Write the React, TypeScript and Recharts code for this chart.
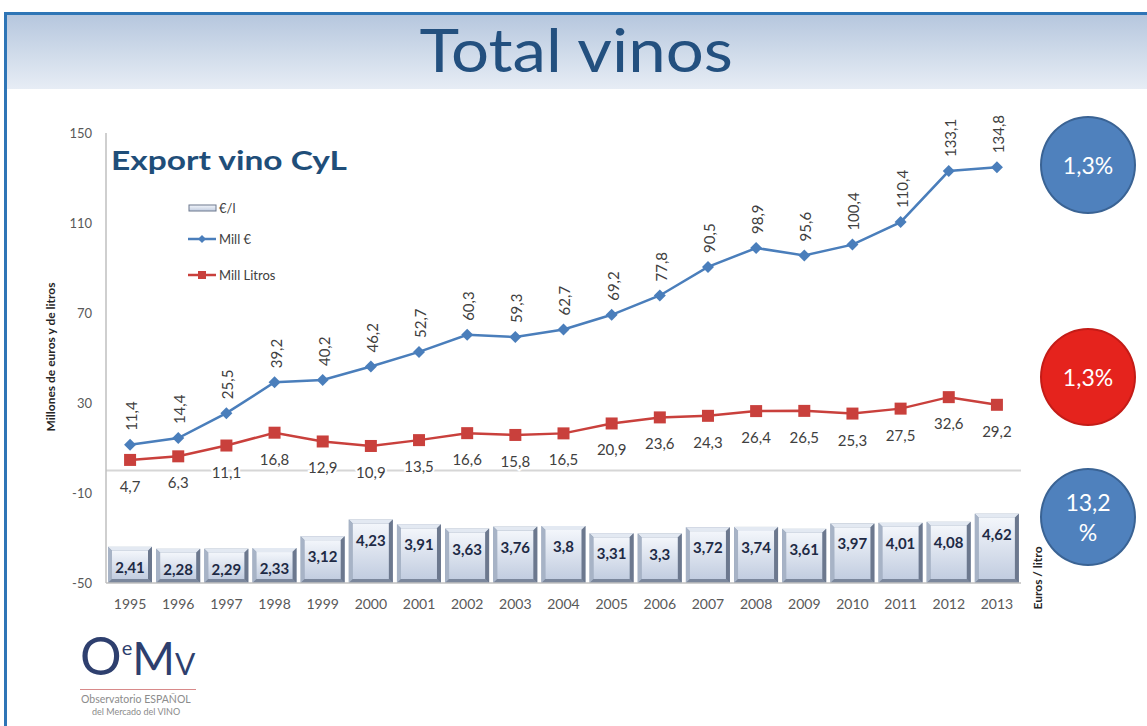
import React from 'react';
import {
  ComposedChart,
  Bar,
  Line,
  XAxis,
  YAxis,
  LabelList,
  ReferenceLine,
} from 'recharts';

const years = [
  '1995', '1996', '1997', '1998', '1999', '2000', '2001', '2002', '2003', '2004',
  '2005', '2006', '2007', '2008', '2009', '2010', '2011', '2012', '2013',
];
const millEuros = [
  11.4, 14.4, 25.5, 39.2, 40.2, 46.2, 52.7, 60.3, 59.3, 62.7,
  69.2, 77.8, 90.5, 98.9, 95.6, 100.4, 110.4, 133.1, 134.8,
];
const millLitros = [
  4.7, 6.3, 11.1, 16.8, 12.9, 10.9, 13.5, 16.6, 15.8, 16.5,
  20.9, 23.6, 24.3, 26.4, 26.5, 25.3, 27.5, 32.6, 29.2,
];
const eurosLitro = [
  2.41, 2.28, 2.29, 2.33, 3.12, 4.23, 3.91, 3.63, 3.76, 3.8,
  3.31, 3.3, 3.72, 3.74, 3.61, 3.97, 4.01, 4.08, 4.62,
];
const leftTicks = [-50, -10, 30, 70, 110, 150];
const badges = [
  { text: ['1,3%'], color: '#4F81BD', border: '#3A6394', top: 116 },
  { text: ['1,3%'], color: '#E5231D', border: '#C41C17', top: 328 },
  { text: ['13,2', '%'], color: '#4F81BD', border: '#3A6394', top: 468 },
];

const data = years.map((year, i) => ({
  year,
  euros: millEuros[i],
  litros: millLitros[i],
  eurosLitro: eurosLitro[i],
}));

const FONT = 'Lato, "Open Sans", sans-serif';
const BLUE = '#4A7EBB';
const RED = '#C9403C';

const fmt = (v: number) => String(v).replace('.', ',');

// bevelled bar like the excel "€/l" columns
function BevelBar(props: any) {
  const { x, y, width, height } = props;
  if (!width || !height) return null;
  const b = 4;
  const x2 = x + width;
  const y2 = y + height;
  return (
    <g>
      <rect x={x} y={y} width={width} height={height} fill="#8C9AB0" />
      <polygon points={`${x},${y} ${x2},${y} ${x2 - b},${y + b} ${x + b},${y + b}`} fill="#E3E9F2" />
      <polygon points={`${x},${y} ${x + b},${y + b} ${x + b},${y2 - b} ${x},${y2}`} fill="#A7B3C6" />
      <polygon points={`${x2},${y} ${x2},${y2} ${x2 - b},${y2 - b} ${x2 - b},${y + b}`} fill="#6C788E" />
      <polygon points={`${x},${y2} ${x + b},${y2 - b} ${x2 - b},${y2 - b} ${x2},${y2}`} fill="#7B879C" />
      <rect x={x + b} y={y + b} width={width - 2 * b} height={height - 2 * b} fill="url(#barFace)" />
    </g>
  );
}

function DiamondDot(props: any) {
  const { cx, cy } = props;
  if (cx == null || cy == null) return null;
  const r = 6;
  return (
    <polygon
      points={`${cx},${cy - r} ${cx + r},${cy} ${cx},${cy + r} ${cx - r},${cy}`}
      fill={BLUE}
    />
  );
}

function SquareDot(props: any) {
  const { cx, cy } = props;
  if (cx == null || cy == null) return null;
  return <rect x={cx - 6} y={cy - 6} width={12} height={12} fill={RED} />;
}

const euroLabel = (p: any) => {
  const tx = p.x + 1;
  const ty = p.y - 14;
  return (
    <text
      x={tx}
      y={ty}
      transform={`rotate(-90 ${tx} ${ty})`}
      textAnchor="start"
      dominantBaseline="central"
      fontSize={15}
      fontFamily={FONT}
      fill="#404040"
    >
      {fmt(p.value)}
    </text>
  );
};

const litrosLabel = (p: any) => (
  <text
    x={p.x}
    y={p.y + 26}
    textAnchor="middle"
    dominantBaseline="central"
    fontSize={15}
    fontFamily={FONT}
    fill="#404040"
    stroke="#fff"
    strokeWidth={4}
    paintOrder="stroke"
  >
    {fmt(p.value)}
  </text>
);

const barLabel = (p: any) => (
  <text
    x={p.x + p.width / 2}
    y={p.y + 20}
    textAnchor="middle"
    dominantBaseline="central"
    fontSize={15}
    fontWeight="bold"
    fontFamily={FONT}
    fill="#1E2A45"
  >
    {fmt(p.value)}
  </text>
);

function LegendRow({ kind, label, top }: { kind: string; label: string; top: number }) {
  return (
    <div style={{ position: 'absolute', left: 188, top, height: 14, display: 'flex', alignItems: 'center' }}>
      <svg width={30} height={14}>
        {kind === 'bar' && (
          <rect x={1} y={4} width={27} height={6} fill="url(#barFace)" stroke="#6C788E" strokeWidth={1} />
        )}
        {kind === 'euros' && (
          <g>
            <line x1={0} y1={7} x2={28} y2={7} stroke={BLUE} strokeWidth={2.5} />
            <polygon points="14,3 18,7 14,11 10,7" fill={BLUE} />
          </g>
        )}
        {kind === 'litros' && (
          <g>
            <line x1={0} y1={7} x2={28} y2={7} stroke={RED} strokeWidth={2.5} />
            <rect x={10} y={3} width={8} height={8} fill={RED} />
          </g>
        )}
      </svg>
      <span style={{ fontSize: 13, color: '#404040', marginLeft: 1 }}>{label}</span>
    </div>
  );
}

export default function App() {
  return (
    <div
      style={{
        position: 'absolute',
        left: 0,
        top: 0,
        width: 1147,
        height: 726,
        overflow: 'hidden',
        background: '#fff',
        fontFamily: FONT,
      }}
    >
      {/* slide frame and header */}
      <div style={{ position: 'absolute', left: 4, top: 12, width: 1143, height: 3, background: '#2E75B6' }} />
      <div style={{ position: 'absolute', left: 4, top: 12, width: 3, height: 714, background: '#2E75B6' }} />
      <div
        style={{
          position: 'absolute',
          left: 7,
          top: 15,
          width: 1140,
          height: 74,
          background: 'linear-gradient(#B6C7DE, #E7EDF5)',
        }}
      />
      <div
        style={{
          position: 'absolute',
          left: 7,
          top: 14,
          width: 1140,
          height: 74,
          textAlign: 'center',
          lineHeight: '70px',
          fontSize: 60,
          color: '#23507F',
          transform: 'scaleX(1.12)',
          transformOrigin: '577px 0',
        }}
      >
        Total vinos
      </div>

      <ComposedChart
        width={1147}
        height={726}
        data={data}
        margin={{ top: 133, right: 126, bottom: 113, left: 46 }}
        barCategoryGap={2}
        style={{ position: 'absolute', left: 0, top: 0 }}
      >
        <defs>
          <linearGradient id="barFace" x1="0" y1="0" x2="0" y2="1">
            <stop offset="0%" stopColor="#F3F6FB" />
            <stop offset="100%" stopColor="#C2CDE0" />
          </linearGradient>
        </defs>
        <XAxis
          dataKey="year"
          height={30}
          tickLine={false}
          axisLine={{ stroke: '#BFBFBF', strokeWidth: 1.5 }}
          tick={{ fontSize: 14, fill: '#595959', fontFamily: FONT }}
          tickMargin={10}
          interval={0}
        />
        <YAxis
          yAxisId="left"
          width={60}
          domain={[-50, 150]}
          ticks={leftTicks}
          allowDataOverflow
          tickLine={false}
          tickSize={0}
          tickMargin={14}
          axisLine={{ stroke: '#BFBFBF', strokeWidth: 1.5 }}
          tick={{ fontSize: 13, fill: '#595959', fontFamily: FONT }}
        />
        <YAxis yAxisId="right" orientation="right" hide domain={[0, 30]} />
        <ReferenceLine yAxisId="left" y={0} stroke="#D6D6D6" strokeWidth={2} />
        <Bar
          yAxisId="right"
          dataKey="eurosLitro"
          shape={<BevelBar />}
          isAnimationActive={false}
        >
          <LabelList dataKey="eurosLitro" content={barLabel} />
        </Bar>
        <Line
          yAxisId="left"
          dataKey="litros"
          stroke={RED}
          strokeWidth={2.5}
          dot={<SquareDot />}
          activeDot={false}
          isAnimationActive={false}
        >
          <LabelList dataKey="litros" content={litrosLabel} />
        </Line>
        <Line
          yAxisId="left"
          dataKey="euros"
          stroke={BLUE}
          strokeWidth={2.5}
          dot={<DiamondDot />}
          activeDot={false}
          isAnimationActive={false}
        >
          <LabelList dataKey="euros" content={euroLabel} />
        </Line>
      </ComposedChart>

      {/* chart title and legend */}
      <div
        style={{
          position: 'absolute',
          left: 111,
          top: 143,
          fontSize: 27,
          lineHeight: '34px',
          fontWeight: 'bold',
          color: '#1F4E79',
          whiteSpace: 'nowrap',
          transform: 'scaleX(1.24)',
          transformOrigin: '0 0',
        }}
      >
        Export vino CyL
      </div>
      <LegendRow kind="bar" label="€/l" top={201} />
      <LegendRow kind="euros" label="Mill €" top={232} />
      <LegendRow kind="litros" label="Mill Litros" top={268} />

      {/* axis titles */}
      <div
        style={{
          position: 'absolute',
          left: 50,
          top: 357,
          transform: 'translate(-50%, -50%) rotate(-90deg)',
          fontSize: 12,
          fontWeight: 'bold',
          color: '#262626',
          whiteSpace: 'nowrap',
        }}
      >
        Millones de euros y de litros
      </div>
      <div
        style={{
          position: 'absolute',
          left: 1037,
          top: 578,
          transform: 'translate(-50%, -50%) rotate(-90deg)',
          fontSize: 12,
          fontWeight: 'bold',
          color: '#262626',
          whiteSpace: 'nowrap',
        }}
      >
        Euros / litro
      </div>

      {/* growth badges */}
      {badges.map((b, i) => (
        <div
          key={i}
          style={{
            position: 'absolute',
            left: 1040,
            top: b.top,
            width: 96,
            height: 98,
            borderRadius: '50%',
            background: b.color,
            border: `2px solid ${b.border}`,
            boxSizing: 'border-box',
            display: 'flex',
            flexDirection: 'column',
            alignItems: 'center',
            justifyContent: 'center',
            color: '#fff',
            fontSize: 23,
            lineHeight: '30px',
          }}
        >
          {b.text.map((t) => (
            <div key={t}>{t}</div>
          ))}
        </div>
      ))}

      {/* OeMv logo */}
      <div
        style={{
          position: 'absolute',
          left: 80,
          top: 624,
          height: 62,
          lineHeight: '62px',
          color: '#2E3F6E',
          whiteSpace: 'nowrap',
        }}
      >
        <span style={{ fontSize: 52 }}>O</span>
        <span style={{ fontSize: 20, verticalAlign: 'top', position: 'relative', top: -8 }}>e</span>
        <span style={{ fontSize: 46 }}>M</span>
        <span style={{ fontSize: 30 }}>V</span>
      </div>
      <div style={{ position: 'absolute', left: 80, top: 689, width: 116, height: 1, background: '#D88A8A' }} />
      <div
        style={{
          position: 'absolute',
          left: 81,
          top: 693,
          fontSize: 10.5,
          lineHeight: '12px',
          color: '#8C8C8C',
          whiteSpace: 'nowrap',
        }}
      >
        Observatorio ESPAÑOL
      </div>
      <div
        style={{
          position: 'absolute',
          left: 92,
          top: 706,
          fontSize: 9,
          lineHeight: '11px',
          color: '#8C8C8C',
          whiteSpace: 'nowrap',
        }}
      >
        del Mercado del VINO
      </div>
    </div>
  );
}
